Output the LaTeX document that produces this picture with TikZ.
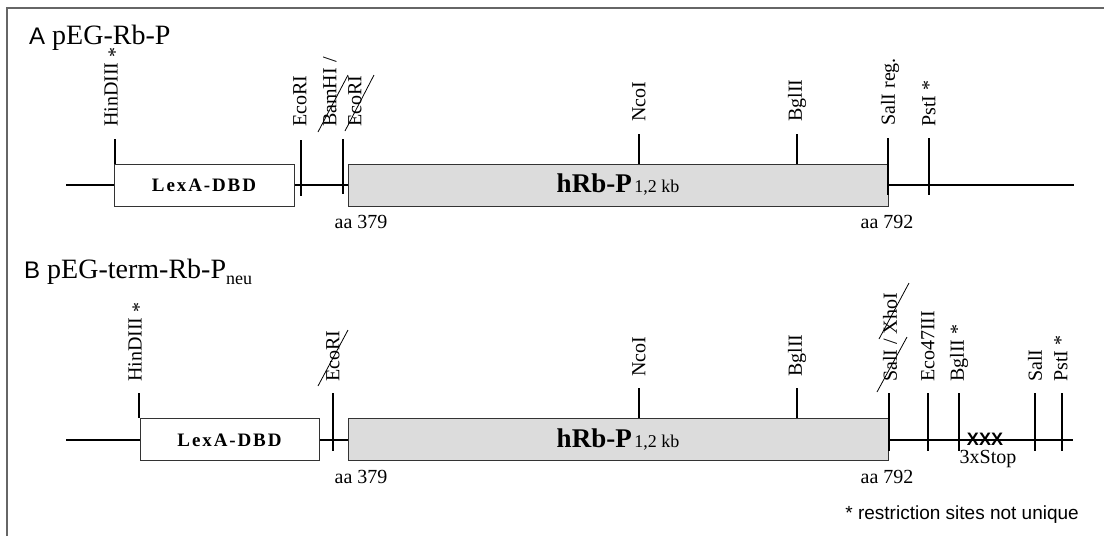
\documentclass[tikz,border=0pt]{standalone}
\usepackage{fontspec}
\setmainfont{Liberation Serif}
\setsansfont{Liberation Sans}
\definecolor{rbgray}{HTML}{DCDCDC}
\tikzset{
  site/.style={line width=2pt},
  backbone/.style={line width=2pt},
  vecbox/.style={draw=black!80, line width=1pt},
  sitelbl/.style={rotate=90, anchor=west, inner sep=0pt, font=\fontsize{20}{20}\selectfont},
  aalbl/.style={anchor=base, inner sep=0pt, font=\fontsize{20}{20}\selectfont},
  cutline/.style={line width=0.8pt},
  title/.style={anchor=base west, inner sep=0pt, font=\fontsize{28}{28}\selectfont},
}
\newcommand{\dbdtext}{{\addfontfeature{LetterSpace=10}\bfseries\fontsize{19}{19}\selectfont LexA-DBD}}
\newcommand{\rbtext}{{\bfseries\fontsize{27}{27}\selectfont hRb-P} {\fontsize{18}{18}\selectfont 1,2 kb}}
\begin{document}
\begin{tikzpicture}[x=1pt,y=-1pt]
\useasboundingbox (0,0) rectangle (1104,536);
\draw[black!60, line width=2pt] (7,536) -- (7,7.5) -- (1104,7.5);

\node[title] (titA) at (29,44) {{\sffamily\fontsize{24}{24}\selectfont A} pEG-Rb-P};
\draw[backbone] (66,185) -- (1074,185);
\draw[vecbox, fill=white] (114,164) rectangle (294,206);
\draw[vecbox, fill=rbgray] (348,164) rectangle (888,206);
\node (dbdA) at (204,185) {\dbdtext};
\node (rbA) at (618,185) {\rbtext};
\draw[site] (115,139) -- (115,164);
\draw[site] (301,140) -- (301,196);
\draw[site] (343,139) -- (343,194);
\draw[site] (639,134) -- (639,164);
\draw[site] (797,134) -- (797,164);
\draw[site] (888,138) -- (888,195);
\draw[site] (929,138) -- (929,195);
\node[sitelbl] (hindA) at (113,127) {HinDIII \raisebox{-4pt}{*}};
\node[sitelbl] (ecoA) at (300,127) {EcoRI};
\node[sitelbl] (bamA) at (330,127) {BamHI /};
\node[sitelbl] (eco2A) at (355,127) {EcoRI};
\node[sitelbl] (ncoA) at (639,122) {NcoI};
\node[sitelbl] (bglA) at (797,122) {BglII};
\node[sitelbl] (salA) at (890,126) {SalI reg.};
\node[sitelbl] (pstA) at (929,127) {PstI *};
\draw[cutline] (318,132) -- (348,75);
\draw[cutline] (345,131) -- (374,75);
\node[aalbl] (aa379A) at (361,228) {aa 379};
\node[aalbl] (aa792A) at (887,228) {aa 792};

\node[title] (titB) at (24,278) {{\sffamily\fontsize{24}{24}\selectfont B} pEG-term-Rb-P\raisebox{-6pt}{\fontsize{18}{18}\selectfont neu}};
\draw[backbone] (66,440) -- (1073,440);
\draw[vecbox, fill=white] (140,418) rectangle (319,460);
\draw[vecbox, fill=rbgray] (348,418) rectangle (888,460);
\node (dbdB) at (229.5,440) {\dbdtext};
\node (rbB) at (618,440) {\rbtext};
\draw[site] (139,393) -- (139,418);
\draw[site] (333,393) -- (333,451);
\draw[site] (639,388) -- (639,418);
\draw[site] (797,388) -- (797,418);
\draw[site] (889,393) -- (889,451);
\draw[site] (928,393) -- (928,451);
\draw[site] (959,393) -- (959,451);
\draw[site] (1035,393) -- (1035,451);
\draw[site] (1062,393) -- (1062,451);
\node[sitelbl] (hindB) at (137,382) {HinDIII \raisebox{-4pt}{*}};
\node[sitelbl] (ecoB) at (333,382) {EcoRI};
\node[sitelbl] (ncoB) at (639,377) {NcoI};
\node[sitelbl] (bglB) at (797,377) {BglII};
\node[sitelbl] (salB) at (890,382) {SalI / XhoI};
\node[sitelbl] (eco47B) at (928,382) {Eco47III};
\node[sitelbl] (bgl2B) at (959,382) {BglII *};
\node[sitelbl] (sal2B) at (1035,382) {SalI};
\node[sitelbl] (pstB) at (1061,382) {PstI *};
\draw[cutline] (318,386) -- (348,330);
\draw[cutline] (877,392) -- (907,337);
\draw[cutline] (879,339) -- (909,283);
\node[font=\sffamily\bfseries\fontsize{18}{18}\selectfont, inner sep=0pt] (stops) at (985,439) {XXX};
\node[aalbl] (stoplbl) at (988,463) {3xStop};
\node[aalbl] (aa379B) at (361,483) {aa 379};
\node[aalbl] (aa792B) at (887,483) {aa 792};

\node[anchor=base east, inner sep=0pt, font=\sffamily\fontsize{19}{19}\selectfont] (note) at (1079,519) {* restriction sites not unique};
\end{tikzpicture}
\end{document}
